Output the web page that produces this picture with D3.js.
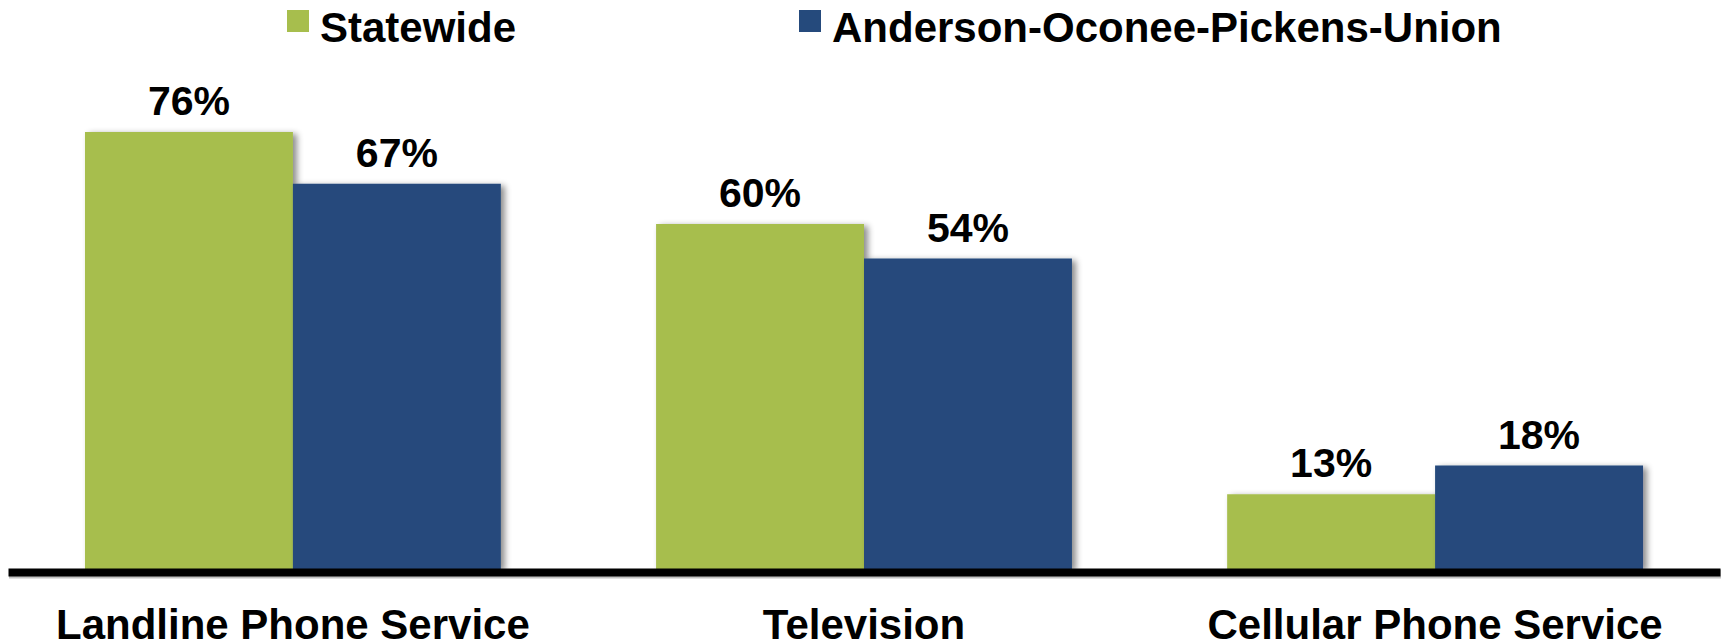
<!DOCTYPE html>
<html>
<head>
<meta charset="utf-8">
<script src="https://cdn.jsdelivr.net/npm/d3@7"></script>
<style>
  html, body { margin: 0; padding: 0; background: #ffffff; }
  svg { display: block; }
</style>
</head>
<body>
<svg id="chart" width="1725" height="644"></svg>
<script>
const categories = ["Landline Phone Service", "Television", "Cellular Phone Service"];
const seriesNames = ["Statewide", "Anderson-Oconee-Pickens-Union"];
const statewide = [76, 60, 13];
const andersonOconeePickensUnion = [67, 54, 18];
const seriesColors = ["#A7BE4D", "#254A7C"];

const W = 1725, H = 644;
const svg = d3.select("#chart");
const font = "'Liberation Sans', Arial, Helvetica, sans-serif";

const defs = svg.append("defs");
const f = defs.append("filter").attr("id", "shadow")
  .attr("x", "-10%").attr("y", "-10%").attr("width", "130%").attr("height", "130%");
f.append("feDropShadow").attr("dx", 4).attr("dy", 2).attr("stdDeviation", 3)
  .attr("flood-color", "#000").attr("flood-opacity", 0.45);

const x0 = d3.scaleBand().domain(categories).range([8, 1720])
  .paddingInner(0.2718).paddingOuter(0.1348);
const x1 = d3.scaleBand().domain(seriesNames).range([0, x0.bandwidth()]).padding(0);
const y = d3.scaleLinear().domain([0, 100]).range([569, -6]);

const rows = categories.map((c, i) => ({
  cat: c,
  vals: [
    { s: seriesNames[0], v: statewide[i], color: seriesColors[0] },
    { s: seriesNames[1], v: andersonOconeePickensUnion[i], color: seriesColors[1] }
  ]
}));

const groups = svg.append("g").selectAll("g").data(rows).join("g")
  .attr("transform", d => `translate(${x0(d.cat)},0)`);

groups.selectAll("rect").data(d => d.vals).join("rect")
  .attr("x", d => x1(d.s))
  .attr("y", d => y(d.v))
  .attr("width", x1.bandwidth())
  .attr("height", d => y(0) - y(d.v))
  .attr("fill", d => d.color)
  .attr("filter", "url(#shadow)");

groups.selectAll("text.val").data(d => d.vals).join("text")
  .attr("class", "val")
  .attr("x", d => x1(d.s) + x1.bandwidth() / 2)
  .attr("y", d => y(d.v) - 17)
  .attr("text-anchor", "middle")
  .attr("font-family", font).attr("font-weight", "bold").attr("font-size", 41)
  .attr("fill", "#000")
  .text(d => d.v + "%");

// baseline axis
const xAxis = d3.axisBottom(x0).tickSize(0).tickPadding(0);
const axisY = y(0) + 3;
// soft shadow under the axis line
svg.append("line")
  .attr("x1", x0.range()[0] + 1).attr("x2", x0.range()[1] + 1)
  .attr("y1", axisY + 2).attr("y2", axisY + 2)
  .attr("stroke", "#9a9a9a").attr("stroke-width", 9).attr("stroke-opacity", 0.6);
const axisG = svg.append("g").attr("transform", `translate(0,${axisY})`).call(xAxis);
axisG.select(".domain").attr("stroke", "#000").attr("stroke-width", 8);
axisG.selectAll(".tick text")
  .attr("dy", 0)
  .attr("y", 67)
  .attr("font-family", font).attr("font-weight", "bold").attr("font-size", 42)
  .attr("fill", "#000");

// legend
const legendX = [287, 799];
const leg = svg.append("g").selectAll("g").data(seriesNames).join("g")
  .attr("transform", (d, i) => `translate(${legendX[i]},10)`);
leg.append("rect").attr("width", 22).attr("height", 22)
  .attr("fill", (d, i) => seriesColors[i]);
leg.append("text").attr("x", 33).attr("y", 32)
  .attr("font-family", font).attr("font-weight", "bold").attr("font-size", 42)
  .attr("fill", "#000").text(d => d);
</script>
</body>
</html>
